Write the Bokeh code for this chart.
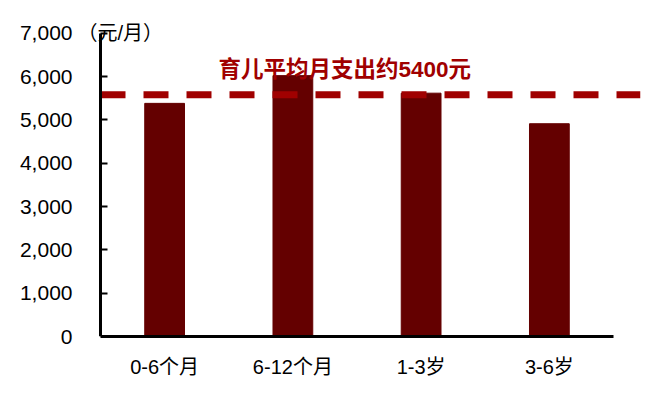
from bokeh.plotting import figure
from bokeh.models import (Range1d, FixedTicker, Label, NumeralTickFormatter,
                          ColumnDataSource, LinearAxis)
from bokeh.embed import file_html
from bokeh.resources import INLINE

categories = ["0-6个月", "6-12个月", "1-3岁", "3-6岁"]
spend = [5380, 6020, 5615, 4910]
avg_line = 5580
y_ticks = [0, 1000, 2000, 3000, 4000, 5000, 6000, 7000]
unit_text = "（元/月）"
note_text = "育儿平均月支出约5400元"

xs = list(range(len(categories)))
src = ColumnDataSource(dict(x=xs, top=spend))

BAR = "#640000"
RED = "#A00000"
FONT = "'Liberation Sans', 'Noto Sans CJK SC'"

STEP = 128.25          # px per category
FW, FH = 560, 325      # frame size
LEFT_PAD = 20          # px between frame left edge and the y axis line
x0 = -0.5 - LEFT_PAD / STEP
x1 = x0 + FW / STEP

p = figure(width=644, height=391, frame_width=FW, frame_height=FH,
           output_backend="svg", toolbar_location=None,
           x_range=Range1d(x0, x1),
           y_range=Range1d(0, 7500),
           min_border_left=80, min_border_right=4,
           min_border_top=11, min_border_bottom=55)
p.outline_line_color = None
p.xgrid.visible = False
p.ygrid.visible = False
p.background_fill_color = "white"

p.vbar(x="x", top="top", width=0.31, source=src, color=BAR)

# average line, from the first category edge to the right edge of the plot
p.segment(x0=[-0.5], y0=[avg_line], x1=[x1], y1=[avg_line],
          line_color=RED, line_width=7, line_dash="25 18")

# y tick labels (normal axis at frame edge, line hidden)
ya = p.yaxis[0]
ya.ticker = FixedTicker(ticks=y_ticks)
ya.formatter = NumeralTickFormatter(format="0,0")
ya.axis_line_color = None
ya.major_tick_line_color = None
ya.minor_tick_line_color = None
ya.major_label_standoff = 2
ya.major_label_text_font = FONT
ya.major_label_text_font_size = "21px"
ya.major_label_text_color = "black"

# y axis line and inward ticks at the first category edge (no labels)
ya2 = LinearAxis(fixed_location=-0.5, bounds=(0, 7000),
                 ticker=FixedTicker(ticks=y_ticks))
ya2.axis_line_width = 3
ya2.axis_line_color = "black"
ya2.major_tick_in = 7
ya2.major_tick_out = 0
ya2.major_tick_line_width = 2
ya2.minor_tick_line_color = None
ya2.major_label_text_color = None
ya2.major_label_standoff = 0
p.add_layout(ya2, "left")
p.left = [ya2, ya]

xa = p.xaxis[0]
xa.bounds = (-0.5, len(categories) - 0.5)
xa.ticker = FixedTicker(ticks=xs)
xa.major_label_overrides = {i: c for i, c in enumerate(categories)}
xa.axis_line_width = 3
xa.axis_line_color = "black"
xa.major_tick_line_color = None
xa.minor_tick_line_color = None
xa.major_label_standoff = 13
xa.major_label_text_font = FONT
xa.major_label_text_font_size = "20px"
xa.major_label_text_color = "black"

p.add_layout(Label(x=-0.5 - 23 / STEP, y=7000, text=unit_text, text_baseline="middle",
                   text_font=FONT, text_font_size="20px", text_color="black"))
p.add_layout(Label(x=0.42, y=6160, text=note_text, text_baseline="middle",
                   text_font=FONT, text_font_size="22.5px", text_font_style="bold",
                   text_color=RED))

open("out.html", "w").write(file_html(p, INLINE))
